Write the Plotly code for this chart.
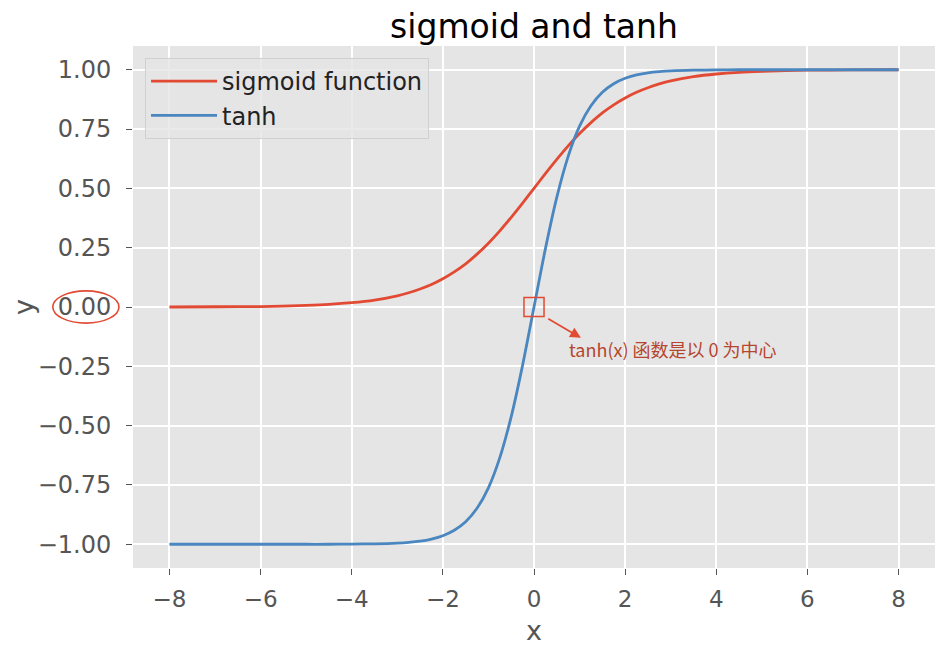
import plotly.graph_objects as go

# valores
x_vals = [-8, -7, -6, -5, -4.5, -4, -3.5, -3, -2.75, -2.5, -2.25, -2, -1.75,
          -1.5, -1.25, -1, -0.75, -0.5, -0.25, 0, 0.25, 0.5, 0.75, 1, 1.25,
          1.5, 1.75, 2, 2.25, 2.5, 2.75, 3, 3.5, 4, 4.5, 5, 6, 7, 8]
sigmoid_vals = [0.000, 0.001, 0.002, 0.007, 0.011, 0.018, 0.029, 0.047, 0.060,
                0.076, 0.095, 0.119, 0.148, 0.182, 0.223, 0.269, 0.321, 0.378,
                0.438, 0.500, 0.562, 0.622, 0.679, 0.731, 0.777, 0.818, 0.852,
                0.881, 0.905, 0.924, 0.940, 0.953, 0.971, 0.982, 0.989, 0.993,
                0.998, 0.999, 1.000]
tanh_vals = [-1.000, -1.000, -1.000, -1.000, -1.000, -0.999, -0.998, -0.995,
             -0.992, -0.987, -0.978, -0.964, -0.941, -0.905, -0.848, -0.762,
             -0.635, -0.462, -0.245, 0.000, 0.245, 0.462, 0.635, 0.762, 0.848,
             0.905, 0.941, 0.964, 0.978, 0.987, 0.992, 0.995, 0.998, 0.999,
             1.000, 1.000, 1.000, 1.000, 1.000]
x_ticks = [-8, -6, -4, -2, 0, 2, 4, 6, 8]
y_ticks = [-1.0, -0.75, -0.5, -0.25, 0.0, 0.25, 0.5, 0.75, 1.0]

RED = "#E24A33"
BLUE = "#4A86BF"
FONT = "DejaVu Sans, sans-serif"

fig = go.Figure()

fig.add_trace(go.Scatter(
    x=x_vals, y=sigmoid_vals, mode="lines", name="sigmoid function",
    line=dict(color=RED, width=2.8, shape="spline", smoothing=0.8),
))
fig.add_trace(go.Scatter(
    x=x_vals, y=tanh_vals, mode="lines", name="tanh",
    line=dict(color=BLUE, width=2.8, shape="spline", smoothing=0.8),
))

# recuadro en el origen + flecha + texto
fig.add_shape(type="rect", xref="x", yref="y", x0=-0.22, x1=0.22, y0=-0.04, y1=0.04,
              line=dict(color=RED, width=1.5))
fig.add_annotation(
    x=1.03, y=-0.13, ax=0.28, ay=-0.046, xref="x", yref="y", axref="x", ayref="y",
    text="", showarrow=True, arrowhead=2, arrowsize=1.2, arrowwidth=1.8,
    arrowcolor=RED,
)
fig.add_annotation(
    x=0.72, y=-0.177, xref="x", yref="y", xanchor="left", yanchor="middle",
    text="tanh(x) 函数是以 0 为中心", showarrow=False,
    font=dict(family="Noto Sans CJK SC, sans-serif", size=18, color="#B5452E"),
)
# óvalo alrededor de la etiqueta 0.00
fig.add_shape(type="circle", xref="paper", yref="y", x0=-0.1, x1=-0.0175,
              y0=-0.068, y1=0.068, line=dict(color=RED, width=1.6))

# el body del html tiene 8px de margen: la figura se ajusta a ese hueco
fig.update_layout(
    width=931, height=638,
    title=dict(text="sigmoid and tanh", x=0.565, xanchor="center", y=0.9718,
               yanchor="middle", font=dict(family=FONT, size=33, color="black")),
    plot_bgcolor="#E5E5E5", paper_bgcolor="white",
    margin=dict(l=125, r=4, t=38, b=78, autoexpand=False),
    font=dict(family=FONT, color="#555555"),
    legend=dict(
        x=0.015, y=0.977, xanchor="left", yanchor="top",
        bgcolor="rgba(229,229,229,0.8)", bordercolor="#D0D0D0", borderwidth=1,
        font=dict(family=FONT, size=24, color="#222222"),
        itemwidth=66,
    ),
    showlegend=True,
)

fig.update_xaxes(
    range=[-8.8, 8.8], tickvals=x_ticks, ticktext=[str(t).replace("-", "−") for t in x_ticks],
    showgrid=True, gridcolor="white", gridwidth=1.5, zeroline=False,
    ticks="outside", ticklen=6, tickcolor="#555555", automargin=False,
    tickfont=dict(size=23, color="#555555"), ticklabelstandoff=4,
    title=dict(text="x", font=dict(size=27, color="#555555"), standoff=14),
)
fig.update_yaxes(
    range=[-1.1, 1.1], tickvals=y_ticks,
    ticktext=[f"{t:.2f}".replace("-", "−") for t in y_ticks],
    showgrid=True, gridcolor="white", gridwidth=1.5, zeroline=False,
    ticks="outside", ticklen=6, tickcolor="#555555", automargin=False,
    tickfont=dict(size=24, color="#555555"), ticklabelstandoff=10,
    title=dict(text="y", font=dict(size=27, color="#555555"), standoff=22),
)

fig.write_html("out.html")
